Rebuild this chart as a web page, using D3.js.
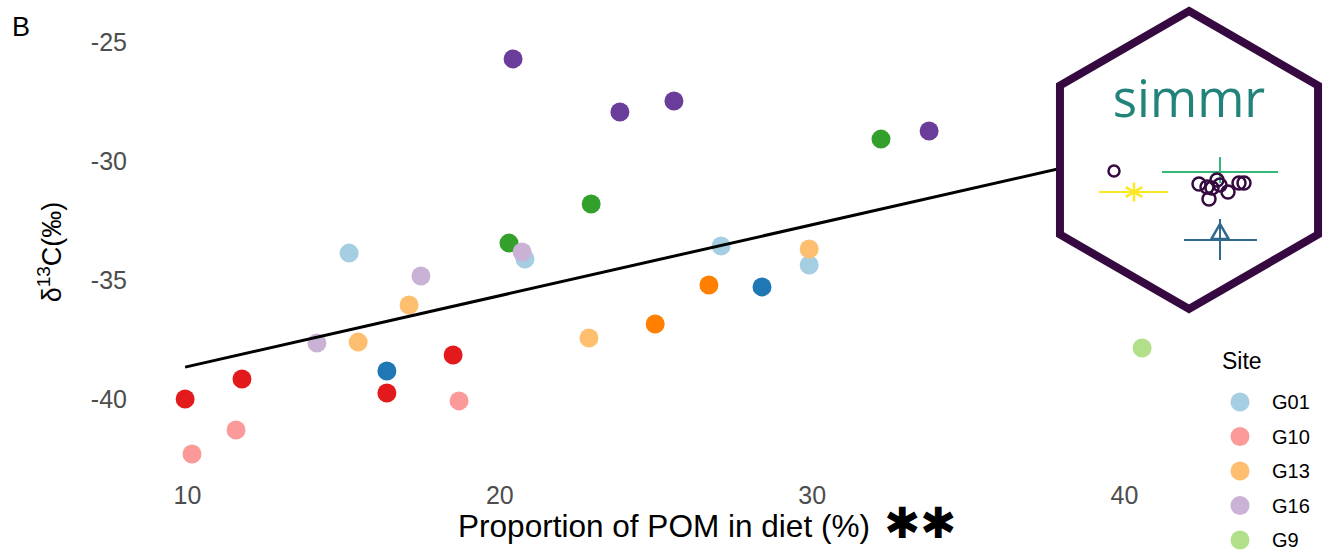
<!DOCTYPE html>
<html><head><meta charset="utf-8">
<script src="https://cdn.jsdelivr.net/npm/d3@7"></script>
<style>body{margin:0;background:#fff}svg{display:block}</style>
</head><body>
<svg id="c" width="1324" height="551"></svg>
<script>
// ---- data ----
const xTicks = [10, 20, 30, 40];
const yTicks = [-25, -30, -35, -40];
const legendSites = ["G01", "G10", "G13", "G16", "G9"];
const legendColors = ["#a6cee3", "#fb9a99", "#fdbf6f", "#cab2d6", "#b2df8a"];
// point groups (light = legend sites, dark = paired sites not visible in legend)
const groupColor = {
  G01: "#a6cee3", G01d: "#1f78b4", G9: "#b2df8a", G9d: "#33a02c",
  G10: "#fb9a99", G10d: "#e31a1c", G13: "#fdbf6f", G13d: "#ff7f00",
  G16: "#cab2d6", G16d: "#6a3d9a"
};
const pointGroup = ["G01","G01","G01","G01","G01d","G01d","G9","G9d","G9d","G9d",
  "G10","G10","G10","G10d","G10d","G10d","G10d","G13","G13","G13","G13","G13d","G13d",
  "G16","G16","G16","G16d","G16d","G16d","G16d"];
const pointX = [15.19,20.82,27.10,29.92,28.41,16.40,40.58,32.22,22.94,20.31,
  10.16,11.57,18.71,9.94,11.76,16.40,18.52,17.11,15.48,22.87,29.92,26.71,24.99,
  20.73,17.49,14.16,20.44,23.86,25.59,33.76];
const pointY = [-33.87,-34.12,-33.57,-34.37,-35.29,-38.82,-37.86,-29.08,-31.81,-33.45,
  -42.31,-41.30,-40.08,-40.00,-39.16,-39.75,-38.15,-36.05,-37.61,-37.44,-33.70,-35.21,-36.85,
  -33.82,-34.83,-37.65,-25.71,-27.94,-27.48,-28.74];
// fitted regression line ends
const fitX = [9.94, 40.58];
const fitY = [-38.66, -29.53];

// ---- drawing ----
const svg = d3.select("#c");
const x = d3.scaleLinear().domain([10, 40]).range([187, 1124]);
const y = d3.scaleLinear().domain([-25, -40]).range([42, 399]);
const FONT = "Liberation Sans, Arial, sans-serif";

svg.append("text").attr("x", 12).attr("y", 36).attr("font-family", FONT)
  .attr("font-size", 27).attr("fill", "#000").text("B");

const yAx = svg.append("g").attr("transform", "translate(131,0)")
  .call(d3.axisLeft(y).tickValues(yTicks).tickSize(0).tickPadding(4).tickFormat(d => String(d)));
yAx.select(".domain").remove();
yAx.selectAll("text").attr("font-family", FONT).attr("font-size", 25).attr("fill", "#4d4d4d");

const xAx = svg.append("g").attr("transform", "translate(0,480)")
  .call(d3.axisBottom(x).tickValues(xTicks).tickSize(0).tickPadding(6).tickFormat(d => String(d)));
xAx.select(".domain").remove();
xAx.selectAll("text").attr("font-family", FONT).attr("font-size", 25).attr("fill", "#4d4d4d");

// axis titles
svg.append("text").attr("x", 664).attr("y", 537).attr("text-anchor", "middle")
  .attr("font-family", FONT).attr("font-size", 31.5).attr("fill", "#000")
  .attr("textLength", 412).attr("lengthAdjust", "spacingAndGlyphs")
  .text("Proportion of POM in diet (%)");
svg.append("text").attr("x", 920).attr("y", 538).attr("text-anchor", "middle")
  .attr("font-family", "DejaVu Sans, sans-serif").attr("font-size", 43).attr("font-weight", "bold").attr("fill", "#000")
  .text("\u2731\u2731");

const yt = svg.append("text").attr("transform", "translate(61,252) rotate(-90)").attr("text-anchor", "middle")
  .attr("font-family", FONT).attr("font-size", 27).attr("fill", "#000");
yt.append("tspan").text("\u03b4");
yt.append("tspan").attr("font-size", 19).attr("dy", -11).text("13");
yt.append("tspan").attr("dy", 11).text("C(\u2030)");

// points
const pts = pointX.map((v, i) => ({x: v, y: pointY[i], g: pointGroup[i]}));
svg.append("g").selectAll("circle").data(pts).join("circle")
  .attr("cx", d => x(d.x)).attr("cy", d => y(d.y)).attr("r", 9.5)
  .attr("fill", d => groupColor[d.g]);

// fitted line
svg.append("path").datum(fitX.map((v, i) => [v, fitY[i]]))
  .attr("d", d3.line().x(d => x(d[0])).y(d => y(d[1])))
  .attr("stroke", "#000").attr("stroke-width", 3).attr("fill", "none");

// legend
svg.append("text").attr("x", 1222).attr("y", 369).attr("font-family", FONT)
  .attr("font-size", 23).attr("fill", "#000").text("Site");
const lg = svg.append("g").selectAll("g").data(legendSites).join("g")
  .attr("transform", (d, i) => `translate(1240,${402 + i * 34.5})`);
lg.append("circle").attr("r", 9.5).attr("fill", (d, i) => legendColors[i]);
lg.append("text").attr("x", 32).attr("y", 7).attr("font-family", FONT)
  .attr("font-size", 20).attr("fill", "#000").text(d => d);

// simmr hex logo
const hx = 1189, hy = 160, hr = 149;
const hexPts = d3.range(6).map(k => {
  const a = Math.PI / 3 * k - Math.PI / 2;
  return [hx + hr * Math.cos(a), hy + hr * Math.sin(a)];
});
svg.append("polygon").attr("points", hexPts.map(p => p.join(",")).join(" "))
  .attr("fill", "#fff").attr("stroke", "#360a40").attr("stroke-width", 8).attr("stroke-linejoin", "miter");
svg.append("text").attr("x", 1189).attr("y", 117).attr("text-anchor", "middle")
  .attr("font-family", "Open Sans, sans-serif").attr("font-size", 51).attr("fill", "#218379").text("simmr");
const logo = svg.append("g").attr("fill", "none");
// yellow
logo.append("line").attr("x1", 1099).attr("x2", 1168).attr("y1", 192).attr("y2", 192).attr("stroke", "#fde725").attr("stroke-width", 2);
logo.append("path").attr("d", d3.symbol(d3.symbolAsterisk, 260)()).attr("transform", "translate(1134,192)")
  .attr("stroke", "#fde725").attr("stroke-width", 2.5);
logo.append("circle").attr("cx", 1114).attr("cy", 171).attr("r", 5.5).attr("stroke", "#360a40").attr("stroke-width", 2.5);
// green
logo.append("line").attr("x1", 1162).attr("x2", 1278).attr("y1", 172).attr("y2", 172).attr("stroke", "#35b779").attr("stroke-width", 2);
logo.append("line").attr("x1", 1220).attr("x2", 1220).attr("y1", 157).attr("y2", 183).attr("stroke", "#35b779").attr("stroke-width", 2);
// cluster
const cl = [[1199,184],[1207,187],[1217,180],[1220,185],[1212,188],[1209,199],[1228,192],[1239,183],[1244,183]];
cl.forEach(c => logo.append("circle").attr("cx", c[0]).attr("cy", c[1]).attr("r", 6.5).attr("stroke", "#360a40").attr("stroke-width", 2.5));
// blue
logo.append("line").attr("x1", 1184).attr("x2", 1257).attr("y1", 240).attr("y2", 240).attr("stroke", "#31688e").attr("stroke-width", 2);
logo.append("line").attr("x1", 1220).attr("x2", 1220).attr("y1", 219).attr("y2", 260).attr("stroke", "#31688e").attr("stroke-width", 2);
logo.append("path").attr("d", d3.symbol(d3.symbolTriangle, 130)()).attr("transform", "translate(1220,234)")
  .attr("stroke", "#31688e").attr("stroke-width", 2.5);
</script>
</body></html>
